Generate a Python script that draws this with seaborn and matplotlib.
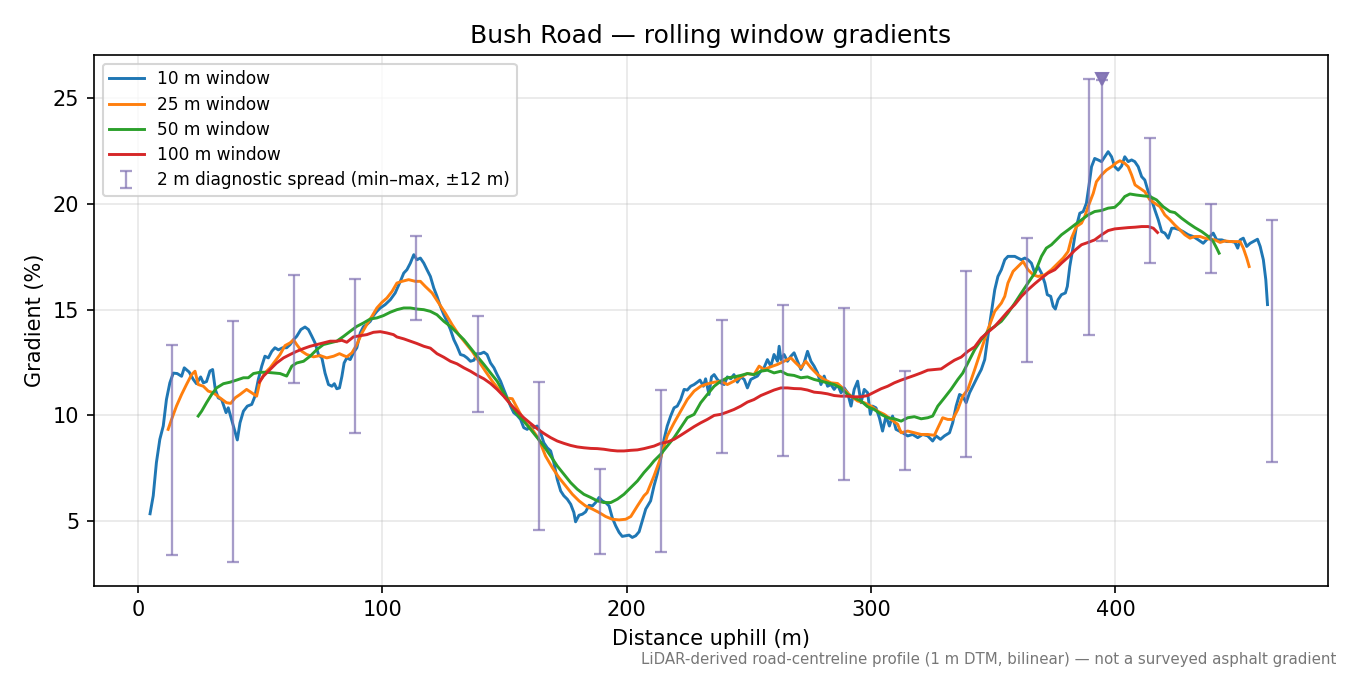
import matplotlib
matplotlib.use("Agg")
import matplotlib.pyplot as plt
import numpy as np
import pandas as pd
import seaborn as sns

# distance uphill (m) / gradient (%) per rolling window
dist_10 = [5.0, 6.3, 7.6, 9.0, 10.4, 11.7, 13.1, 14.5, 16.1, 17.9, 19.0, 21.0, 22.7, 24.0, 25.7, 26.8,
           28.1, 29.5, 30.6, 31.7, 32.9, 34.3, 36.1, 37.0, 39.1, 40.7, 41.8, 43.2, 44.8, 46.6, 47.9,
           49.3, 50.7, 52.0, 53.4, 54.8, 56.1, 57.5, 59.3, 60.9, 62.3, 63.7, 65.0, 66.7, 68.4, 69.8,
           71.2, 72.5, 73.9, 75.3, 76.6, 78.0, 79.4, 80.4, 81.4, 82.5, 83.5, 84.4, 85.5, 86.9, 88.2,
           89.6, 91.0, 92.3, 93.7, 95.1, 96.4, 97.8, 99.2, 101.2, 103.3, 105.3, 107.4, 108.8, 110.1,
           111.5, 112.9, 114.2, 115.6, 117.0, 118.3, 119.7, 121.1, 122.4, 123.8, 125.2, 126.5, 127.9,
           129.3, 130.6, 132.0, 133.4, 134.7, 136.1, 137.5, 138.8, 140.2, 141.6, 142.9, 144.3, 145.7,
           147.0, 148.4, 149.7, 151.1, 152.5, 153.8, 155.2, 156.6, 157.9, 159.3, 160.7, 162.0, 163.4,
           164.8, 166.1, 167.5, 168.9, 170.2, 171.6, 173.0, 174.3, 175.7, 177.1, 178.4, 179.1, 180.5,
           181.9, 183.2, 184.6, 186.0, 187.3, 188.7, 190.0, 191.4, 192.8, 194.1, 195.5, 196.9, 198.2,
           199.6, 201.0, 202.3, 203.7, 205.1, 206.4, 207.8, 209.8, 211.2, 212.5, 213.9, 215.3, 216.6,
           218.0, 219.4, 220.7, 222.1, 223.5, 224.8, 226.2, 227.6, 228.9, 230.0, 231.4, 232.3, 233.7,
           234.7, 235.8, 237.1, 238.5, 239.9, 241.2, 242.6, 243.9, 245.3, 246.7, 248.1, 249.4, 250.8,
           252.1, 253.5, 254.9, 256.2, 257.6, 259.0, 260.3, 261.7, 262.4, 263.1, 264.4, 265.8, 267.2,
           268.5, 269.9, 271.3, 272.6, 274.0, 275.4, 276.7, 278.1, 279.5, 280.8, 282.2, 283.6, 284.9,
           286.3, 287.7, 289.0, 290.4, 291.8, 293.1, 294.5, 295.9, 297.2, 298.6, 299.7, 300.6, 302.0,
           303.4, 304.7, 306.1, 307.5, 308.8, 310.2, 311.6, 312.9, 315.0, 317.0, 319.1, 321.1, 323.2,
           325.2, 326.6, 328.4, 330.0, 332.1, 333.4, 334.8, 336.2, 337.5, 338.9, 340.3, 342.3, 343.7,
           345.1, 346.5, 347.8, 349.2, 350.6, 351.9, 353.3, 354.7, 356.0, 357.4, 358.8, 360.1, 361.5,
           362.9, 364.2, 365.6, 367.0, 368.3, 369.7, 371.1, 372.1, 373.5, 374.5, 375.4, 376.5, 377.9,
           379.5, 380.3, 381.3, 382.7, 384.0, 385.4, 386.8, 388.1, 389.1, 390.2, 391.5, 392.9, 394.3,
           395.6, 397.0, 398.4, 399.7, 401.1, 402.5, 403.8, 405.2, 406.6, 407.9, 409.3, 410.7, 412.0,
           413.4, 414.8, 416.1, 417.5, 418.9, 420.2, 421.6, 423.0, 424.3, 426.4, 427.7, 429.8, 431.8,
           433.9, 435.9, 437.9, 440.0, 441.4, 443.5, 445.5, 447.6, 448.9, 450.0, 451.0, 452.3, 453.7,
           455.1, 456.4, 458.1, 459.2, 460.5, 461.5, 462.2]
grad_10 = [5.35, 6.2, 7.77, 8.87, 9.5, 10.75, 11.54, 12.0, 11.98, 11.85, 12.25, 12.05, 11.7, 11.5, 11.82, 11.54,
           11.6, 12.1, 12.17, 11.23, 10.83, 10.75, 10.13, 10.36, 9.5, 8.84, 9.65, 10.2, 10.44, 10.52, 10.9,
           11.7, 12.33, 12.8, 12.72, 13.03, 13.2, 13.1, 13.2, 13.2, 13.35, 13.58, 13.74, 14.06, 14.18, 14.06,
           13.74, 13.43, 12.88, 12.72, 12.0, 11.46, 11.38, 11.5, 11.26, 11.3, 11.85, 12.48, 12.72, 12.64, 12.96,
           13.2, 13.9, 14.2, 14.3, 14.45, 14.72, 14.92, 15.08, 15.24, 15.47, 15.79, 16.34, 16.73, 16.89,
           17.2, 17.6, 17.36, 17.44, 17.2, 16.89, 16.57, 16.02, 15.63, 15.16, 14.76, 14.45, 14.06,
           13.58, 13.27, 12.88, 12.83, 12.72, 12.56, 12.61, 12.92, 12.92, 12.99, 12.88, 12.48, 12.25,
           11.93, 11.62, 11.23, 10.83, 10.44, 10.13, 10.0, 9.81, 9.42, 9.34, 9.5, 9.42, 9.5,
           9.18, 8.71, 8.47, 8.32, 7.77, 6.98, 6.43, 6.2, 6.04, 5.8, 5.41, 4.97, 5.28,
           5.33, 5.44, 5.75, 5.72, 5.88, 6.12, 5.96, 5.88, 5.72, 5.17, 4.78, 4.47, 4.28,
           4.31, 4.34, 4.23, 4.31, 4.5, 5.02, 5.57, 5.96, 6.67, 7.22, 7.92, 8.87, 9.5,
           9.97, 10.36, 10.44, 10.75, 11.23, 11.2, 11.38, 11.46, 11.57, 11.67, 11.38, 11.73, 10.99,
           11.82, 11.93, 11.7, 11.54, 11.46, 11.82, 11.73, 11.93, 11.57, 11.82, 11.7, 11.3, 11.7,
           11.78, 11.86, 12.09, 12.25, 12.64, 12.33, 12.88, 12.56, 13.27, 12.64, 12.88, 12.56, 12.8,
           12.96, 12.56, 12.17, 12.48, 13.03, 12.56, 12.33, 12.01, 11.46, 11.86, 11.38, 11.46, 11.23,
           11.46, 11.07, 11.3, 11.07, 10.44, 11.23, 11.62, 10.6, 11.23, 11.07, 10.05, 10.44, 10.36,
           9.89, 9.26, 9.97, 9.5, 9.97, 9.34, 9.26, 9.18, 9.03, 9.1, 8.95, 9.1, 9.03,
           8.79, 9.03, 8.87, 9.03, 9.18, 9.65, 10.44, 10.99, 10.91, 10.6, 11.07, 11.54, 11.86,
           12.17, 12.64, 13.74, 14.84, 15.94, 16.57, 16.89, 17.36, 17.52, 17.52, 17.52, 17.44, 17.36,
           17.44, 17.36, 17.2, 16.73, 17.04, 16.73, 16.26, 15.71, 15.63, 15.16, 15.03, 15.47, 15.71,
           15.79, 16.1, 17.04, 17.99, 18.93, 19.56, 19.64, 20.03, 20.82, 21.76, 22.15, 22.08, 22.0,
           22.23, 22.47, 22.23, 21.76, 21.6, 21.79, 22.23, 22.0, 22.08, 22.0, 21.76, 21.29, 21.13,
           20.58, 20.19, 19.72, 19.25, 18.69, 18.62, 18.38, 18.85, 18.85, 18.77, 18.69, 18.54, 18.46,
           18.3, 18.14, 18.38, 18.62, 18.3, 18.3, 18.22, 18.22, 18.18, 17.91, 18.3, 18.38, 17.99,
           18.14, 18.22, 18.33, 17.99, 17.36, 16.42, 15.24]

dist_25 = [12.4, 13.8, 15.8, 17.9, 19.9, 22.0, 23.4, 24.7, 26.8, 28.8, 30.9, 33.6, 36.3, 38.0, 39.8, 41.8,
           44.5, 46.6, 48.6, 50.0, 52.0, 54.1, 56.1, 58.2, 60.2, 62.3, 63.7, 65.0, 67.1, 69.1, 71.9,
           74.6, 77.3, 80.1, 82.5, 84.2, 85.5, 87.6, 89.6, 91.7, 93.7, 95.8, 97.8, 99.9, 101.9, 104.0,
           106.0, 108.1, 110.8, 113.5, 115.6, 117.6, 120.4, 123.1, 125.8, 128.6, 131.3, 134.0, 136.8,
           139.5, 142.2, 145.0, 147.7, 150.4, 153.2, 155.9, 158.6, 161.4, 164.1, 166.8, 169.6, 172.3,
           175.0, 177.8, 180.5, 183.2, 186.0, 188.7, 191.4, 194.1, 196.9, 199.6, 201.7, 204.4, 207.1,
           208.4, 211.2, 213.9, 216.6, 219.4, 222.1, 224.8, 227.6, 230.3, 233.0, 235.8, 238.5, 241.2,
           243.9, 246.7, 249.4, 252.1, 254.2, 256.2, 259.0, 261.7, 264.4, 267.2, 269.2, 271.3, 273.3,
           275.4, 278.1, 280.8, 283.6, 286.3, 289.0, 291.8, 294.5, 297.2, 300.0, 302.7, 305.4, 308.2,
           310.9, 312.3, 315.0, 317.7, 320.5, 323.2, 325.9, 328.0, 329.3, 331.4, 333.4, 335.5, 337.5,
           339.6, 342.4, 345.1, 347.8, 350.6, 353.3, 354.7, 356.0, 358.1, 360.1, 362.2, 364.2, 366.3,
           368.3, 371.1, 373.8, 376.5, 378.6, 380.6, 382.0, 384.0, 386.1, 387.4, 388.8, 390.9, 392.2,
           394.3, 396.3, 398.4, 400.4, 401.8, 403.8, 405.2, 406.6, 408.0, 410.0, 412.0, 414.1, 416.1,
           418.2, 420.2, 422.3, 424.3, 426.4, 428.4, 430.5, 432.5, 434.6, 436.6, 438.7, 440.7, 442.8,
           444.8, 446.9, 448.9, 451.0, 452.3, 453.7, 454.7]
grad_25 = [9.34, 9.81, 10.44, 10.99, 11.46, 11.93, 12.09, 11.46, 11.38, 11.15, 11.07, 10.83, 10.6, 10.57, 10.83, 10.99,
           11.23, 11.07, 10.91, 11.62, 12.01, 12.25, 12.56, 12.88, 13.3, 13.43, 13.58, 13.35, 13.03, 12.88, 12.77,
           12.83, 12.72, 12.8, 12.92, 12.83, 12.77, 12.96, 13.35, 13.9, 14.3, 14.69, 15.08, 15.35, 15.55, 15.86,
           16.26, 16.34, 16.42, 16.34, 16.34, 16.1, 15.79, 15.31, 14.84, 14.29, 13.82, 13.43, 13.03,
           12.56, 12.09, 11.62, 11.23, 10.83, 10.79, 10.2, 9.65, 9.34, 8.87, 8.08, 7.53, 7.06,
           6.67, 6.27, 5.96, 5.72, 5.57, 5.41, 5.22, 5.09, 5.06, 5.09, 5.22, 5.72, 6.2,
           6.35, 7.14, 8.0, 9.03, 9.65, 10.2, 10.75, 11.15, 11.38, 11.49, 11.57, 11.62, 11.46,
           11.62, 11.82, 11.98, 11.93, 12.33, 12.17, 12.3, 12.41, 12.56, 12.72, 12.48, 12.25, 12.56,
           12.25, 11.93, 11.7, 11.54, 11.51, 11.23, 10.91, 10.68, 10.6, 10.44, 10.2, 10.05, 9.81,
           9.58, 9.18, 9.26, 9.18, 9.1, 9.1, 9.06, 9.58, 9.89, 9.81, 9.81, 10.28, 10.91,
           11.23, 12.17, 13.11, 14.06, 14.92, 15.31, 15.63, 16.26, 16.81, 17.04, 17.28, 16.89, 16.65,
           16.57, 16.65, 16.89, 17.2, 17.44, 17.75, 18.38, 18.93, 19.09, 19.4, 19.87, 20.5, 21.05,
           21.37, 21.6, 21.76, 21.95, 22.04, 21.92, 21.76, 21.37, 20.9, 20.74, 20.58, 20.19, 20.03,
           19.87, 19.48, 19.25, 19.0, 18.77, 18.54, 18.38, 18.46, 18.46, 18.38, 18.33, 18.3, 18.18,
           18.25, 18.22, 18.22, 18.22, 17.91, 17.44, 17.04]

dist_50 = [24.7, 26.1, 28.1, 30.2, 32.2, 35.0, 37.7, 40.4, 43.2, 45.2, 47.3, 50.0, 52.7, 55.5, 58.2, 60.9,
           63.0, 65.0, 67.8, 70.5, 73.2, 75.9, 78.7, 81.4, 84.2, 86.9, 89.6, 92.3, 95.1, 97.8, 100.5,
           103.3, 106.0, 108.8, 111.5, 114.2, 117.0, 119.7, 122.4, 125.2, 127.9, 130.6, 133.4, 136.1,
           138.8, 141.6, 144.3, 147.0, 149.7, 152.5, 155.2, 157.9, 160.7, 163.4, 166.1, 168.9, 171.6,
           174.3, 177.1, 179.8, 182.5, 185.3, 188.0, 190.7, 193.5, 196.2, 198.9, 201.7, 204.4, 207.1,
           209.6, 211.2, 213.9, 216.6, 219.4, 222.1, 224.8, 227.6, 230.3, 233.0, 235.8, 238.5, 241.2,
           243.9, 246.7, 249.4, 252.1, 254.9, 257.6, 260.3, 263.1, 265.8, 268.5, 271.3, 274.0, 276.7,
           279.5, 282.2, 284.9, 287.7, 290.4, 293.1, 295.9, 298.6, 301.3, 304.1, 306.8, 309.5, 312.3,
           315.0, 317.7, 320.5, 323.2, 325.2, 327.3, 330.0, 332.7, 335.5, 337.5, 339.6, 342.4, 345.1,
           347.8, 350.6, 353.3, 356.0, 358.8, 361.5, 364.2, 367.0, 369.7, 371.7, 373.8, 375.8, 377.9,
           380.6, 383.3, 386.1, 388.8, 391.5, 394.3, 397.0, 399.7, 401.8, 403.8, 405.9, 408.6, 411.4,
           414.1, 416.8, 419.5, 422.3, 424.3, 427.1, 429.8, 432.5, 435.3, 438.0, 440.0, 441.4, 442.4]
grad_50 = [9.97, 10.2, 10.6, 10.99, 11.3, 11.5, 11.57, 11.67, 11.78, 11.78, 11.98, 12.04, 12.04, 12.01, 11.98, 11.86,
           12.33, 12.48, 12.56, 12.8, 13.11, 13.35, 13.43, 13.51, 13.74, 13.98, 14.21, 14.37, 14.56, 14.61, 14.72,
           14.88, 15.0, 15.08, 15.08, 15.03, 15.0, 14.92, 14.76, 14.45, 14.21, 13.9, 13.58, 13.19,
           12.8, 12.41, 12.01, 11.62, 11.07, 10.52, 10.05, 9.73, 9.34, 8.95, 8.55, 8.08, 7.61,
           7.22, 6.82, 6.51, 6.27, 6.12, 5.96, 5.88, 5.88, 6.04, 6.27, 6.59, 6.9, 7.3,
           7.62, 7.85, 8.16, 8.55, 8.95, 9.42, 9.89, 10.05, 10.6, 10.99, 11.38, 11.62, 11.78,
           11.82, 11.89, 11.98, 11.93, 12.09, 12.14, 12.01, 12.09, 11.93, 11.89, 11.78, 11.82, 11.7,
           11.62, 11.54, 11.46, 11.3, 10.99, 10.83, 10.68, 10.41, 10.28, 10.05, 9.89, 9.84, 9.73,
           9.89, 9.94, 9.84, 9.89, 9.97, 10.44, 10.83, 11.23, 11.7, 12.0, 12.48, 13.11, 13.58,
           13.98, 14.21, 14.45, 14.84, 15.31, 15.79, 16.26, 16.73, 17.52, 17.91, 18.07, 18.3, 18.54,
           18.77, 19.01, 19.25, 19.48, 19.64, 19.69, 19.8, 19.84, 20.06, 20.35, 20.47, 20.42, 20.38,
           20.35, 20.19, 19.87, 19.64, 19.59, 19.32, 19.09, 18.88, 18.69, 18.46, 18.22, 17.91, 17.67]

dist_100 = [49.7, 51.4, 54.1, 56.8, 59.6, 62.3, 65.0, 67.8, 70.5, 73.2, 75.9, 78.7, 81.4, 83.5, 85.5, 88.2,
            91.0, 93.7, 96.4, 99.2, 101.9, 104.6, 106.0, 108.8, 111.5, 114.2, 117.0, 119.7, 122.4, 125.2,
            127.9, 130.6, 133.4, 136.1, 138.8, 141.6, 144.3, 147.0, 149.7, 152.5, 155.2, 157.9, 160.7,
            163.4, 166.1, 168.9, 171.6, 174.3, 177.1, 179.8, 182.5, 185.3, 188.0, 190.7, 193.5, 196.2,
            198.9, 201.7, 204.4, 207.1, 209.6, 211.2, 213.9, 216.6, 219.4, 222.1, 224.8, 227.6, 230.3,
            233.0, 235.8, 238.5, 241.2, 243.9, 246.7, 249.4, 252.1, 254.9, 257.6, 260.3, 263.1, 265.8,
            268.5, 271.3, 274.0, 276.7, 279.5, 282.2, 284.9, 287.7, 290.4, 293.1, 295.9, 298.6, 301.3,
            304.1, 306.8, 309.5, 312.3, 315.0, 317.7, 320.5, 323.2, 325.9, 328.7, 331.4, 334.1, 336.9,
            339.6, 342.4, 345.1, 347.8, 350.6, 353.3, 356.0, 358.8, 361.5, 364.2, 367.0, 369.7, 372.4,
            375.2, 377.9, 380.6, 383.3, 386.1, 388.8, 391.5, 394.3, 397.0, 399.7, 402.5, 405.2, 408.0,
            410.7, 413.4, 415.5, 417.2]
grad_100 = [11.57, 11.86, 12.17, 12.48, 12.72, 12.88, 13.03, 13.16, 13.27, 13.35, 13.43, 13.51, 13.51, 13.55, 13.46, 13.71,
            13.77, 13.82, 13.93, 13.96, 13.9, 13.82, 13.71, 13.62, 13.51, 13.4, 13.27, 13.18, 12.92, 12.75,
            12.56, 12.44, 12.25, 12.09, 11.9, 11.73, 11.51, 11.23, 10.91, 10.52, 10.2, 9.89, 9.62,
            9.37, 9.15, 8.95, 8.79, 8.68, 8.58, 8.51, 8.47, 8.44, 8.43, 8.4, 8.35, 8.32,
            8.32, 8.35, 8.37, 8.43, 8.5, 8.55, 8.68, 8.74, 8.87, 9.06, 9.26, 9.47, 9.65,
            9.81, 10.0, 10.05, 10.16, 10.28, 10.44, 10.63, 10.75, 10.94, 11.07, 11.2, 11.3, 11.3,
            11.27, 11.26, 11.2, 11.1, 11.07, 11.02, 10.94, 10.91, 10.91, 10.88, 10.88, 10.94, 11.1,
            11.26, 11.38, 11.54, 11.67, 11.78, 11.89, 12.01, 12.14, 12.17, 12.2, 12.41, 12.61, 12.76,
            13.03, 13.24, 13.66, 13.93, 14.21, 14.56, 14.92, 15.24, 15.63, 15.94, 16.23, 16.49, 16.73,
            16.89, 17.2, 17.48, 17.8, 18.07, 18.18, 18.3, 18.54, 18.74, 18.82, 18.85, 18.88, 18.9,
            18.93, 18.93, 18.85, 18.65]

# 2 m diagnostic spread (min / max within +-12 m)
spread_dist = [14, 39, 64, 89, 114, 139, 164, 189, 214, 239, 264, 289, 314, 339, 364, 389, 394.5, 414, 439, 464]
spread_min = [3.41, 3.08, 11.51, 9.17, 14.53, 10.16, 4.58, 3.44, 3.54, 8.22, 8.08, 6.93, 7.42, 8.03,
              12.52, 13.79, 18.27, 17.2, 16.73, 7.8]
spread_max = [13.35, 14.45, 16.62, 16.46, 18.46, 14.72, 11.56, 7.47, 11.2, 14.53, 15.2, 15.09, 12.09, 16.84,
              18.38, 25.9, 25.85, 23.11, 20.0, 19.25]
peak_dist = 394.5
peak_grad = 25.9

windows = ["10 m window", "25 m window", "50 m window", "100 m window"]
colors = ["#1f77b4", "#ff7f0e", "#2ca02c", "#d62728"]

series = [(dist_10, grad_10), (dist_25, grad_25), (dist_50, grad_50), (dist_100, grad_100)]

fig, ax = plt.subplots(figsize=(9, 4.5), dpi=150)
fig.subplots_adjust(left=0.0696, right=0.9837, top=0.9185, bottom=0.132)

for (d, g), name, c in zip(series, windows, colors):
    df = pd.DataFrame({"dist": d, "grad": g})
    sns.lineplot(data=df, x="dist", y="grad", ax=ax, color=c, lw=1.4,
                 label=name, sort=False, estimator=None)

lo = np.array(spread_min)
hi = np.array(spread_max)
mid = (lo + hi) / 2
ax.errorbar(spread_dist, mid, yerr=[mid - lo, hi - mid], fmt="none", ecolor="#8172b3",
            alpha=0.7, capsize=3, elinewidth=1.1, capthick=1.1,
            label="2 m diagnostic spread (min\u2013max, \u00b112 m)")
ax.plot([peak_dist], [peak_grad], marker="v", ls="none", color="#8172b3", ms=6, alpha=0.95)

ax.grid(True, alpha=0.3)
ax.set_axisbelow(True)
ax.set_xlabel("Distance uphill (m)")
ax.set_ylabel("Gradient (%)")
ax.set_title("Bush Road \u2014 rolling window gradients")
ax.set_yticks([5, 10, 15, 20, 25])
ax.legend(loc="upper left", fontsize=8.2, labelspacing=0.42)

fig.text(0.99, 0.012, "LiDAR-derived road-centreline profile (1 m DTM, bilinear) \u2014 not a surveyed asphalt gradient",
         ha="right", va="bottom", fontsize=7.2, color="#777777")

fig.savefig("out.png", dpi=150)
plt.close()
